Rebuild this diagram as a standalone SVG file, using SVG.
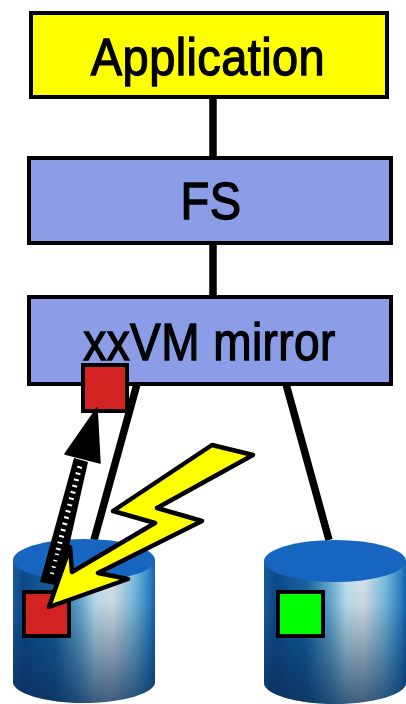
<svg xmlns="http://www.w3.org/2000/svg" width="406" height="704" viewBox="0 0 406 704">
<style>
.box{stroke:#000;stroke-width:4}
.lbl{font-family:"Liberation Sans",Arial,sans-serif;font-size:47px;fill:#000;stroke:#000;stroke-width:1.2;text-anchor:middle;letter-spacing:.4px}
.line{stroke:#000;stroke-width:7.5;fill:none}
.sq{stroke:#000;stroke-width:4}
</style>
<defs>
<linearGradient id="side" x1="0" x2="1" y1="0" y2="0">
<stop offset="0" stop-color="#1a5c9e"/><stop offset=".08" stop-color="#0d4a8c"/><stop offset=".3" stop-color="#1a649f"/><stop offset=".47" stop-color="#6aaed4"/><stop offset=".58" stop-color="#c4e6f0"/><stop offset=".7" stop-color="#dde6ea"/><stop offset=".85" stop-color="#7fc0e0"/><stop offset=".96" stop-color="#2f86c8"/><stop offset="1" stop-color="#1a62ab"/>
</linearGradient>
<linearGradient id="shade" x1="0" x2="0" y1="0" y2="1">
<stop offset="0" stop-color="#03264f" stop-opacity="0"/><stop offset=".3" stop-color="#03264f" stop-opacity=".08"/><stop offset="1" stop-color="#03264f" stop-opacity=".72"/>
</linearGradient>
<path id="cyl" d="M0 21V143C0 154 32 164 71 164S142 154 142 143V21Z"/>
<filter id="soft" x="-5%" y="-5%" width="110%" height="110%"><feGaussianBlur stdDeviation=".7"/></filter>
</defs>
<rect width="406" height="704" fill="#fff"/>
<g id="connectors" filter="url(#soft)">
<path class="line" d="M213 97V158M213 243V297M137 384L94 540M286 384L329 540"/>
</g>
<g id="application" filter="url(#soft)">
<rect class="box" x="31" y="13" width="356" height="84" fill="#ffff00"/>
<text class="lbl" transform="translate(208 75) scale(1 1.1)">Application</text>
</g>
<g id="fs" filter="url(#soft)">
<rect class="box" x="29" y="158" width="362" height="85" fill="#8a9de6"/>
<text class="lbl" transform="translate(211 219) scale(1 1.1)">FS</text>
</g>
<g id="mirror" filter="url(#soft)">
<rect class="box" x="29" y="297" width="362" height="87" fill="#8a9de6"/>
<text class="lbl" transform="translate(209.500 360) scale(.98 1.1)">xxVM mirror</text>
</g>
<g id="disk-left" filter="url(#soft)">
<g transform="translate(13 539)"><use href="#cyl" fill="url(#side)"/><use href="#cyl" fill="url(#shade)"/><ellipse cx="71" cy="21" rx="71" ry="21" fill="#1565c0"/></g>
</g>
<g id="disk-right" filter="url(#soft)">
<g transform="translate(264 540)"><use href="#cyl" fill="url(#side)"/><use href="#cyl" fill="url(#shade)"/><ellipse cx="71" cy="21" rx="71" ry="21" fill="#1565c0"/></g>
<rect class="sq" x="278" y="592" width="45" height="44" fill="#00ff00"/>
</g>
<g id="block-top" filter="url(#soft)">
<rect class="sq" x="83" y="365" width="44" height="46" fill="#d32020"/>
</g>
<g id="block-bottom" filter="url(#soft)">
<rect class="sq" x="24" y="592" width="45" height="44" fill="#d32020"/>
</g>
<g id="resync-arrow" filter="url(#soft)">
<path d="M40 582L60 586L88 462L74 458Z" fill="#000"/>
<path d="M58 550L81 462" stroke="#fff" stroke-width="5" stroke-dasharray="2 4.500" fill="none"/>
<path d="M52 574L58 550" stroke="#fff" stroke-width="4" stroke-dasharray="1.500 5" fill="none"/>
<path d="M97 408L65 454L100 463Z" fill="#000" stroke="#000" stroke-width="1.500" stroke-linejoin="round"/>
</g>
<g id="failure-bolt" filter="url(#soft)">
<path d="M49 607L70 547L72 572L155 523L113 511L212 445L253 455L157 508L202 521L98 573L128 579Z" fill="#ffff00" stroke="#000" stroke-width="4.500" stroke-linejoin="round"/>
</g>
</svg>
